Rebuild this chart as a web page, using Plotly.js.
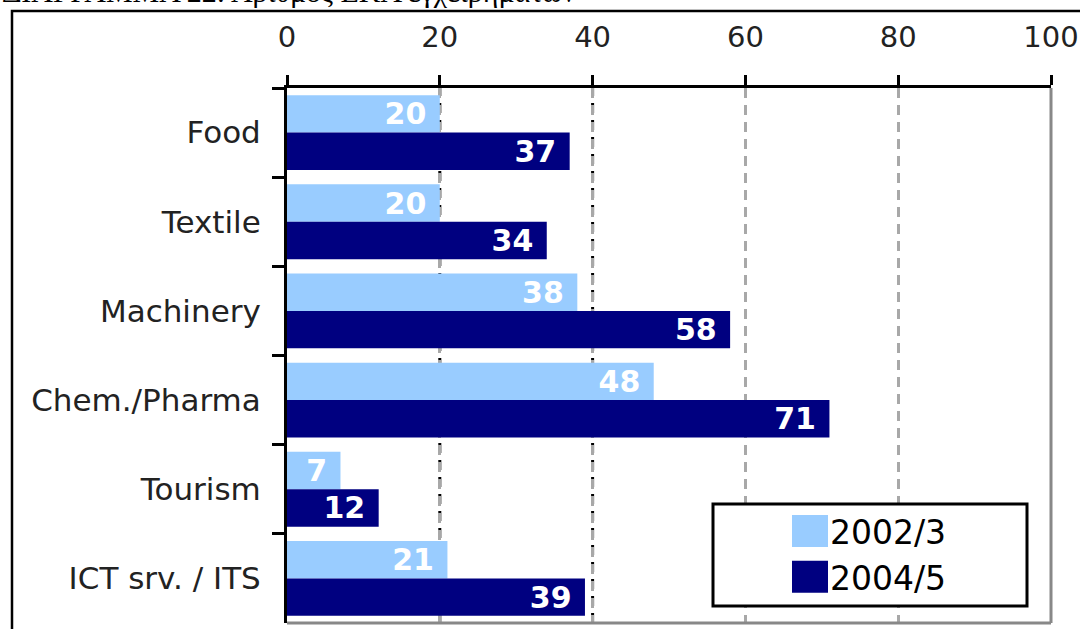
<!DOCTYPE html>
<html>
<head>
<meta charset="utf-8">
<script src="https://cdn.plot.ly/plotly-3.0.1.min.js"></script>
<style>html,body{margin:0;padding:0;background:#fff;} #chart{width:1080px;height:629px;}</style>
</head>
<body>
<div id="chart"></div>
<script>
const captionText = 'ΔΙΑΓΡΑΜΜΑ 22: Αριθμός ΕΚΑ εγχειρημάτων';
const categories = ['Food', 'Textile', 'Machinery', 'Chem./Pharma', 'Tourism', 'ICT srv. / ITS'];
const seriesNames = ['2002/3', '2004/5'];
const values2002 = [20, 20, 38, 48, 7, 21];
const values2004 = [37, 34, 58, 71, 12, 39];
const xTickVals = [0, 20, 40, 60, 80, 100];
const darkGridVals = [20, 40];

const FONT = 'DejaVu Sans, Verdana, sans-serif';
const L = 287, R = 29, T = 88, B = 6, W = 1080, H = 629;
const PW = W - L - R, PH = H - T - B;
const px = x => (x - L) / PW;
const py = y => (H - B - y) / PH;

function barTrace(name, vals, color) {
  return {
    type: 'bar', orientation: 'h', name: name,
    x: vals, y: categories,
    marker: {color: color, line: {width: 0}},
    texttemplate: '%{x}\u00a0',
    textposition: 'inside', insidetextanchor: 'end', constraintext: 'none', textangle: 0,
    textfont: {family: FONT, size: 30, color: '#ffffff', weight: 'bold'},
    hoverinfo: 'skip'
  };
}

const data = [
  barTrace(seriesNames[0], values2002, '#99ccff'),
  barTrace(seriesNames[1], values2004, '#000080')
];

const gridShapes = darkGridVals.map(v => ({
  type: 'line', xref: 'x', yref: 'paper', x0: v, x1: v, y0: 0, y1: 1,
  line: {color: '#000000', width: 3, dash: '10px,7px'}, layer: 'below'
}));

const layout = {
  width: W, height: H,
  margin: {l: L, r: R, t: T, b: B, pad: 0},
  paper_bgcolor: '#ffffff', plot_bgcolor: '#ffffff',
  barmode: 'group', bargap: 0.16, bargroupgap: 0,
  showlegend: true,
  legend: {
    x: px(790), y: py(503), xanchor: 'left', yanchor: 'top',
    bgcolor: 'rgba(0,0,0,0)', borderwidth: 0,
    font: {family: FONT, size: 33, color: '#000000'},
    tracegroupgap: 0
  },
  xaxis: {
    side: 'top', range: [0, 100], tickvals: xTickVals, ticktext: xTickVals.map(String),
    showline: true, linecolor: '#000000', linewidth: 3,
    ticks: 'outside', ticklen: 10, tickwidth: 3, tickcolor: '#000000',
    ticklabelstandoff: 16,
    tickfont: {family: FONT, size: 29, color: '#222222'},
    showgrid: true, gridcolor: '#a8a8a8', gridwidth: 3, griddash: '10px,7px',
    zeroline: false, fixedrange: true
  },
  yaxis: {
    type: 'category', categoryorder: 'array', categoryarray: categories,
    autorange: 'reversed',
    showline: true, linecolor: '#000000', linewidth: 3,
    ticks: 'outside', tickson: 'boundaries', ticklen: 12, tickwidth: 3, tickcolor: '#000000',
    ticklabelstandoff: 17,
    tickfont: {family: FONT, size: 31, color: '#222222'},
    showgrid: false, zeroline: false, fixedrange: true
  },
  shapes: gridShapes.concat([
    // outer frame
    {type: 'rect', xref: 'paper', yref: 'paper', x0: px(12), x1: px(1100), y0: py(11), y1: py(650),
     line: {color: '#000000', width: 2.5}, fillcolor: 'rgba(0,0,0,0)', layer: 'below'},
    // right and bottom plot edges (grey)
    {type: 'line', xref: 'paper', yref: 'paper', x0: 1, x1: 1, y0: 0, y1: 1,
     line: {color: '#888888', width: 3}, layer: 'above'},
    {type: 'line', xref: 'paper', yref: 'paper', x0: 0, x1: 1, y0: 0, y1: 0,
     line: {color: '#888888', width: 3}, layer: 'above'},
    // legend box
    {type: 'rect', xref: 'paper', yref: 'paper', x0: px(713), x1: px(1027), y0: py(606), y1: py(504),
     line: {color: '#000000', width: 3}, fillcolor: '#ffffff', layer: 'above'}
  ]),
  annotations: [
    {text: captionText, xref: 'paper', yref: 'paper', x: px(0), y: py(-9),
     xanchor: 'left', yanchor: 'middle', showarrow: false,
     font: {family: 'Liberation Serif, Times New Roman, serif', size: 30, color: '#000000'}}
  ]
};

Plotly.newPlot('chart', data, layout, {staticPlot: true, displayModeBar: false}).then(function () {
  document.querySelectorAll('.legend .legendpoints path').forEach(function (p) {
    p.setAttribute('d', 'M18,16H-18V-16H18Z');
  });
});
</script>
</body>
</html>
